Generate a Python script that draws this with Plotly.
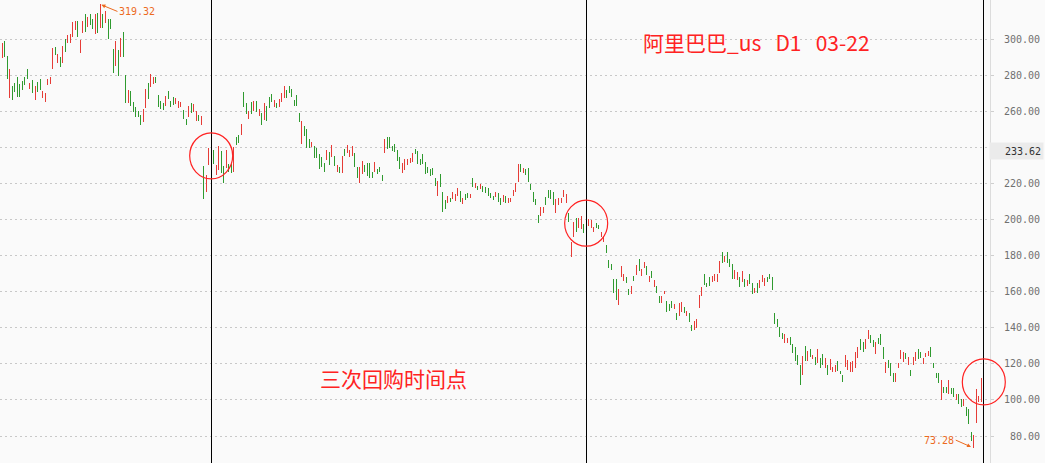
import plotly.graph_objects as go

# ---------------- data ----------------
highs = [
    298.1, 299.2, 290.7, 283.5, 274.1, 275.9, 278.9, 275.0, 276.9, 279.3, 283.5, 275.7, 277.4, 274.3, 276.5, 277.8,
    271.5, 270.4, 278.2, 279.1, 295.3, 295.9, 291.8, 290.4, 296.3, 300.2, 302.4, 302.8, 309.4, 310.1, 310.1, 299.6,
    310.1, 314.0, 312.2, 314.0, 311.5, 314.0, 314.4, 319.32, 314.0, 315.9, 311.3, 311.3, 294.6, 299.2, 294.1, 300.6, 303.9,
    280.2, 271.9, 271.3, 265.4, 262.6, 260.4, 258.0, 261.1, 272.4, 275.6, 280.8, 279.3, 278.9, 269.1, 265.9, 264.5,
    268.6, 271.3, 265.9, 268.2, 267.6, 265.8, 265.4, 260.8, 255.8, 263.0, 264.5, 263.9, 260.2, 258.0, 257.5, 229.7,
    224.7, 239.5, 236.0, 238.6, 230.3, 240.8, 238.1, 229.7, 238.6, 230.8, 230.8, 240.1, 246.0, 246.9, 253.0, 270.9,
    264.8, 260.2, 265.4, 265.8, 266.0, 261.3, 259.0, 264.8, 263.2, 268.2, 269.7, 266.3, 264.8, 266.9, 270.4, 274.1,
    271.9, 274.1, 272.3, 266.3, 269.1, 259.0, 254.8, 251.9, 250.1, 244.6, 243.3, 241.0, 239.5, 236.4, 235.0, 231.2,
    238.6, 237.7, 241.4, 235.3, 230.3, 229.3, 235.3, 239.0, 241.4, 238.6, 240.8, 237.1, 229.3, 229.3, 232.7, 230.3,
    231.2, 231.6, 226.6, 231.8, 227.9, 229.3, 224.7, 244.7, 245.6, 245.6, 240.8, 241.9, 238.6, 234.9, 231.6, 233.4,
    233.4, 234.0, 237.1, 239.2, 238.2, 233.6, 236.2, 231.8, 229.3, 227.9, 228.8, 222.9, 221.6, 225.3, 215.5, 210.9,
    213.3, 212.1, 215.5, 214.0, 217.7, 215.9, 212.1, 214.0, 214.5, 214.2, 223.3, 220.1, 218.6, 219.6, 218.4,
    218.3, 217.4, 214.9, 213.3, 215.1, 214.6, 211.8, 213.6, 213.3, 211.8, 212.0, 216.4, 220.1, 230.7, 230.7, 228.5,
    228.1, 228.5, 219.5, 215.5, 211.4, 202.6, 206.8, 206.8, 212.7, 216.4, 216.4, 215.5, 211.3, 211.8, 211.8, 216.4,
    214.0, 203.5, 187.7, 198.8, 200.7, 200.7, 202.0, 197.6, 199.0, 200.2, 199.8, 196.1, 198.3, 197.0, 193.3, 190.9, 185.9,
    177.6, 175.4, 167.0, 166.8, 161.5, 174.3, 169.8, 168.3, 161.5, 163.2, 168.7, 174.8, 178.1, 172.4, 176.3, 174.3,
    168.9, 171.4, 166.5, 163.3, 157.8, 157.8, 160.5, 154.9, 153.0, 155.0, 153.0, 148.0, 153.6, 154.1, 151.7, 149.5,
    148.4, 141.6, 144.0, 144.9, 158.2, 162.8, 169.8, 165.1, 168.3, 168.7, 169.8, 169.6, 177.2, 182.2, 179.8,
    181.9, 178.1, 175.2, 172.0, 170.7, 168.3, 171.4, 167.0, 166.5, 169.8, 164.7, 162.2, 164.7, 166.5, 169.3, 167.8,
    168.3, 169.8, 168.3, 148.4, 144.9, 140.3, 137.0, 136.6, 134.2, 134.7, 131.0, 129.2, 124.9, 119.3, 124.3, 129.8,
    127.1, 128.0, 124.9, 123.6, 128.0, 123.4, 125.5, 123.0, 119.3, 122.7, 118.4, 119.3, 121.6, 116.0, 113.8,
    124.9, 122.1, 121.2, 121.8, 126.8, 129.2, 133.8, 132.3, 133.8, 138.8, 136.0, 133.2, 132.3, 134.2, 136.4, 129.5,
    121.2, 122.1, 120.3, 114.8, 114.8, 120.3, 127.7, 126.8, 125.8, 124.0, 116.6, 124.0, 126.8, 128.0, 126.8, 123.1,
    126.3, 127.0, 129.5, 120.7, 115.1, 114.8, 111.0, 107.3, 107.3, 111.0, 106.6, 106.6, 103.3, 103.3, 100.5, 100.5,
    95.9, 94.8, 82.4, 80.3, 106.3, 102.0, 112.0,
]
lows = [
    289.5, 290.0, 278.0, 267.6, 266.5, 270.9, 268.2, 268.2, 271.9, 274.7, 278.0, 272.4, 270.0, 266.5, 270.9, 271.9,
    267.6, 265.0, 274.5, 275.2, 283.5, 291.3, 286.7, 284.8, 287.0, 293.1, 298.1, 298.1, 301.1, 305.2, 301.1, 292.6,
    303.3, 303.9, 307.0, 307.9, 305.7, 303.0, 303.3, 306.1, 306.1, 308.9, 300.2, 305.7, 281.1, 285.4, 279.8, 290.0, 290.4,
    264.5, 264.5, 263.2, 259.8, 257.1, 256.7, 252.5, 253.9, 261.7, 266.9, 273.4, 275.2, 275.6, 262.6, 261.3, 260.8,
    263.2, 266.9, 262.6, 263.6, 263.9, 262.1, 262.6, 255.8, 252.5, 257.1, 259.0, 259.8, 254.7, 254.7, 252.5, 211.3,
    215.5, 230.3, 228.0, 230.8, 224.7, 227.5, 225.7, 220.1, 228.5, 226.6, 225.7, 226.6, 241.4, 242.3, 246.9, 262.6,
    258.4, 255.6, 258.4, 260.2, 259.8, 257.5, 252.7, 255.2, 254.7, 261.7, 265.4, 262.6, 262.1, 262.6, 265.4, 267.3,
    267.3, 270.4, 268.2, 263.0, 263.0, 254.4, 241.8, 246.5, 239.5, 239.9, 240.4, 234.3, 234.0, 228.1, 229.0, 226.6,
    233.1, 230.3, 234.6, 229.7, 226.6, 225.7, 226.0, 235.3, 237.1, 234.9, 235.3, 229.3, 222.9, 220.5, 225.1, 226.6,
    224.3, 222.9, 222.9, 226.2, 225.1, 226.6, 221.4, 236.8, 239.0, 239.5, 238.2, 237.7, 232.7, 228.1, 226.0, 227.5,
    230.3, 231.2, 231.8, 236.2, 230.7, 230.3, 230.7, 225.3, 226.0, 224.2, 224.7, 218.6, 213.1, 218.3, 204.4, 205.9,
    209.4, 209.6, 211.3, 210.5, 213.1, 209.9, 208.6, 210.9, 212.0, 211.8, 218.3, 217.4, 216.4, 217.2, 215.5,
    214.9, 213.3, 211.8, 210.9, 212.3, 209.9, 208.1, 209.9, 209.0, 209.4, 209.6, 213.1, 215.5, 221.1, 226.2, 225.7,
    224.7, 221.1, 216.4, 209.6, 208.1, 198.3, 202.0, 203.5, 208.1, 211.8, 211.3, 208.1, 203.5, 208.1, 209.0, 212.7,
    209.0, 198.8, 179.4, 190.2, 193.3, 195.2, 194.8, 192.4, 194.0, 196.6, 195.2, 193.3, 195.2, 194.6, 190.2, 187.7, 181.6,
    173.3, 172.0, 159.4, 155.3, 152.6, 168.3, 166.0, 165.0, 158.2, 158.6, 166.1, 169.3, 171.6, 168.7, 173.3, 169.3,
    165.2, 167.8, 162.8, 159.4, 153.6, 153.6, 158.6, 148.9, 149.3, 151.1, 150.4, 144.3, 146.5, 148.9, 148.0, 146.5,
    143.4, 138.4, 138.8, 139.7, 150.8, 157.6, 163.7, 162.4, 163.3, 165.5, 166.1, 165.5, 170.2, 176.1, 176.7,
    176.1, 173.9, 167.0, 167.0, 166.5, 162.8, 165.5, 162.8, 163.2, 164.3, 158.6, 159.4, 159.4, 161.9, 165.5, 163.3,
    165.5, 166.8, 160.9, 142.1, 140.3, 135.1, 133.7, 131.4, 131.4, 130.4, 125.8, 121.7, 119.3, 108.3, 113.7, 121.4,
    121.4, 123.6, 122.7, 119.3, 120.3, 117.6, 119.3, 117.9, 113.7, 116.6, 115.7, 115.7, 116.0, 114.2, 110.1,
    118.4, 116.6, 115.7, 115.7, 117.6, 123.2, 127.7, 126.8, 128.0, 133.6, 131.4, 129.5, 125.3, 131.0, 130.5, 122.5,
    115.1, 117.5, 113.3, 110.1, 110.1, 117.5, 122.5, 121.2, 122.5, 119.4, 113.3, 119.4, 121.8, 122.5, 123.1, 119.7,
    124.0, 124.3, 124.0, 117.5, 112.0, 109.5, 100.0, 104.0, 103.6, 103.3, 103.3, 101.4, 100.0, 97.7, 95.9, 96.7,
    91.0, 86.6, 77.4, 73.28, 87.3, 99.1, 99.1,
]
# R = rising (red) bar, G = falling (green) bar
dirs = (
    "RGGRGGGGGGG" "RGRGGRRRRR" "GRGRGRRRRG" "RRGRGGRGRG" "RGGGRGRG"
    "GRGGGGGRRG" "RRGGGGRGGG" "RRRGGRGRRG" "RGRRRGRRGG" "RGGRGGRG"
    "GRGRGRGRGG" "GRGRRRGGGG" "GGRGGGRGGG" "GGRGRGRGRG" "RRRGGRRG"
    "GGGRGGGRGG" "GGGGRRRRRG" "GGGGGGGGRG" "GGRGRRRGRG" "GRGRGRG"
    "GGGGRGGRGR" "RRRRGRGGGG" "GGRRGGGGRR" "RRRGRRGRRG" "RRRRGGRRG"
    "GGGGRRRGGR" "GRGRRGRGRG" "GRRGGGRGRR" "GRGGRRRRGG" "GRRRRGR"
    "GGGRRGRGRG" "GRGRRRGGGG" "GGGRRGGGGG" "RGRGRGRGGR" "GRRRGGG"
    "RRRRRRGGRR" "GGRGGGRGGG" "RRRRGRGRRG" "GRRRGGGGRG" "GRGGRGGRGG" "GRRRR"
)

tick_values = [80, 100, 120, 140, 160, 180, 200, 220, 240, 260, 280, 300]
hidden_tick = 240          # covered by the price tag in the reference
price_tag = "233.62"
title_text = "阿里巴巴_us\u00a0\u00a0\u00a0D1\u00a0\u00a0\u00a003-22"
note_text = "三次回购时间点"
buyback_bars = [83, 232, 390]          # bar index of the three buyback dates
circle_prices = [235.4, 198.0, 110.0]  # price at the centre of each marker circle

# ---------------- layout constants ----------------
W, H = 1045, 463
PLOT_W = 990
BAR_STEP = 2.5167     # px per bar
FIRST_PX = 2.3
Y_RANGE = [65.03, 321.79]
X_RANGE = [-FIRST_PX / BAR_STEP, (PLOT_W - FIRST_PX) / BAR_STEP]
RED = "#e63c37"
GREEN = "#2f9a2f"
ORANGE = "#ec6a1e"
MARK_RED = "#ff2222"


def xp(i):
    return (i - X_RANGE[0]) / (X_RANGE[1] - X_RANGE[0])


def yp(v):
    return (v - Y_RANGE[0]) / (Y_RANGE[1] - Y_RANGE[0])


xs_up, ys_up, xs_dn, ys_dn = [], [], [], []
for i, (h, l, d) in enumerate(zip(highs, lows, dirs)):
    if d == "R":
        xs_up += [i, i, None]
        ys_up += [l, h, None]
    else:
        xs_dn += [i, i, None]
        ys_dn += [l, h, None]

fig = go.Figure()
fig.add_trace(go.Scatter(x=xs_up, y=ys_up, mode="lines", line=dict(color=RED, width=1),
                         hoverinfo="skip", showlegend=False))
fig.add_trace(go.Scatter(x=xs_dn, y=ys_dn, mode="lines", line=dict(color=GREEN, width=1),
                         hoverinfo="skip", showlegend=False))

shapes = []
for b in buyback_bars:
    shapes.append(dict(type="line", xref="paper", yref="paper", x0=xp(b), x1=xp(b), y0=0, y1=1,
                       line=dict(color="black", width=1), name="vline"))
RX = 21.5 / PLOT_W
RY = 23.0 / H
for b, p in zip(buyback_bars, circle_prices):
    shapes.append(dict(type="circle", xref="paper", yref="paper",
                       x0=xp(b) - RX, x1=xp(b) + RX, y0=yp(p) - RY, y1=yp(p) + RY,
                       line=dict(color=MARK_RED, width=1.2)))

hi_i = highs.index(max(highs))
lo_i = lows.index(min(lows))
annotations = [
    dict(x=hi_i, y=highs[hi_i], xref="x", yref="y", text=f"{highs[hi_i]:.2f}", showarrow=True,
         xanchor="left", ax=17, ay=7, arrowhead=2, arrowsize=0.8, arrowwidth=1, arrowcolor=ORANGE, standoff=1,
         font=dict(family="DejaVu Sans Mono", size=10, color=ORANGE)),
    dict(x=lo_i, y=lows[lo_i], xref="x", yref="y", text=f"{lows[lo_i]:.2f}", showarrow=True,
         xanchor="right", ax=-18, ay=-8, arrowhead=2, arrowsize=0.8, arrowwidth=1, arrowcolor=ORANGE, standoff=3,
         font=dict(family="DejaVu Sans Mono", size=10, color=ORANGE)),
    dict(x=756.5 / PLOT_W, y=1 - 41.5 / H, xref="paper", yref="paper", xanchor="center", yanchor="middle",
         text=title_text, showarrow=False,
         font=dict(family="Noto Sans CJK SC", size=21, color=MARK_RED)),
    dict(x=393.2 / PLOT_W, y=1 - 377.5 / H, xref="paper", yref="paper", xanchor="center", yanchor="middle",
         text=note_text, showarrow=False,
         font=dict(family="Noto Sans CJK SC", size=21, color=MARK_RED)),
    dict(x=1044 / PLOT_W, y=1 - 150.5 / H, xref="paper", yref="paper", xanchor="right", yanchor="middle",
         text=price_tag, showarrow=False, bgcolor="#ebebeb", width=49, height=12, align="right", borderpad=2,
         font=dict(family="DejaVu Sans Mono", size=10, color="#333333")),
]

tick_text = ["" if v == hidden_tick else f"{v:.2f}".rjust(6, "\u00a0") for v in tick_values]

fig.update_layout(
    width=W, height=H,
    margin=dict(l=0, r=W - PLOT_W, t=0, b=0, autoexpand=False),
    paper_bgcolor="#fafafa", plot_bgcolor="#fafafa",
    showlegend=False,
    shapes=shapes,
    annotations=annotations,
    xaxis=dict(range=X_RANGE, showgrid=False, zeroline=False, showticklabels=False,
               showline=False, ticks=""),
    yaxis=dict(range=Y_RANGE, side="right", tickmode="array", tickvals=tick_values, ticktext=tick_text,
               showgrid=True, gridcolor="#c8c8c8", griddash="2px,3px", gridwidth=1,
               zeroline=False, showline=True, linecolor="#dcdcdc", linewidth=1, automargin=False,
               ticks="outside", ticklen=3, tickcolor="#cfcfcf", ticklabelstandoff=8,
               tickfont=dict(family="DejaVu Sans Mono", size=10, color="#707070")),
)

post = """
document.body.style.margin = '0';
document.body.style.padding = '0';
document.body.style.overflow = 'hidden';
function crisp() {
  document.querySelectorAll('.scatterlayer path.js-line').forEach(function (p) {
    p.style.shapeRendering = 'crispEdges';
  });
  document.querySelectorAll('.shapelayer path').forEach(function (p) {
    if (p.getAttribute('d') && p.getAttribute('d').indexOf('A') < 0) { p.style.shapeRendering = 'crispEdges'; }
  });
}
crisp();
var gdiv = document.getElementById('{plot_id}');
if (gdiv && gdiv.on) { gdiv.on('plotly_afterplot', crisp); }
"""

fig.write_html("out.html", post_script=post, config={"displayModeBar": False, "staticPlot": True})
